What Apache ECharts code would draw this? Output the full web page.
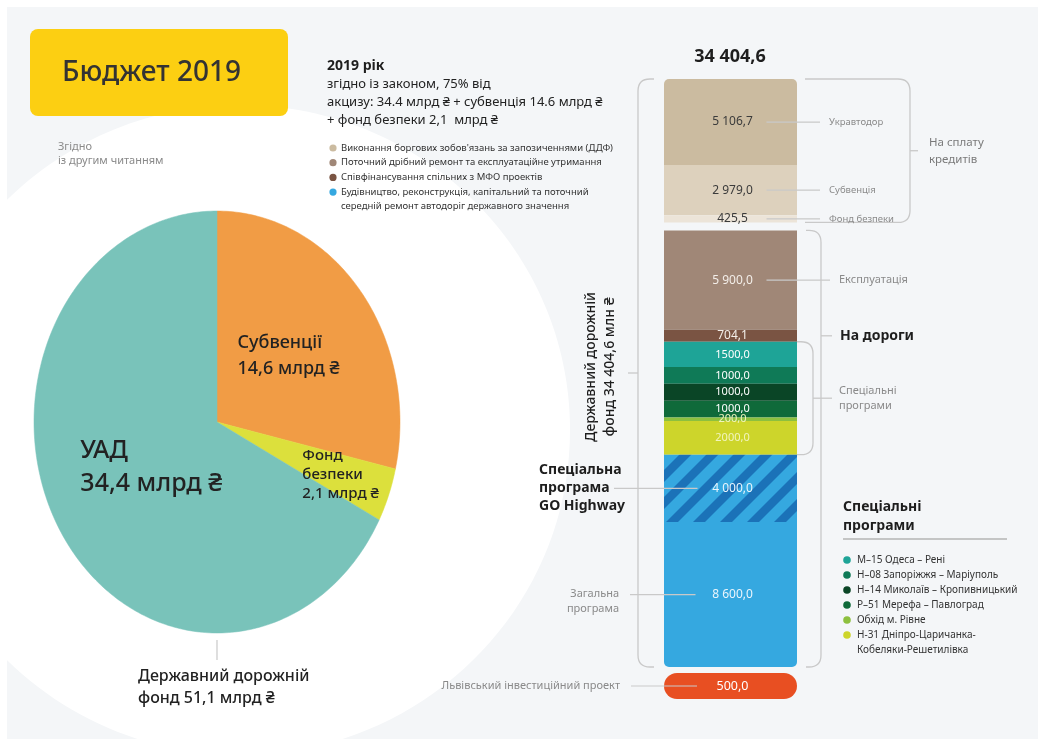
<!DOCTYPE html>
<html>
<head>
<meta charset="utf-8">
<script src="https://cdn.jsdelivr.net/npm/echarts@6/dist/echarts.min.js"></script>
<style>
  html, body { margin: 0; padding: 0; background: #ffffff; }
  #chart { width: 1044px; height: 739px; }
</style>
</head>
<body>
<div id="chart"></div>
<script>
// ---- Sources of the state road fund, bn UAH ----
const pieNames = ['Субвенції', 'Фонд\nбезпеки', 'УАД'];
const pieValues = [14.6, 2.1, 34.4];
const pieColors = ['#f19c45', '#dce03c', '#79c3ba'];

// ---- Allocation of the fund, mln UAH ----
const fundTotal = 34404.6;

const creditNames = ['Укравтодор', 'Субвенція', 'Фонд безпеки'];
const creditValues = [5106.7, 2979.0, 425.5];
const creditColors = ['#cbbba0', '#ddd1bd', '#ece4d8'];

const maintenanceNames = ['Експлуатація', ''];
const maintenanceValues = [5900.0, 704.1];
const maintenanceColors = ['#a08777', '#7a5443'];

const specialNames = ['М–15 Одеса – Рені', 'Н–08 Запоріжжя – Маріуполь', 'Н–14 Миколаїв – Кропивницький',
  'Р–51 Мерефа – Павлоград', 'Обхід м. Рівне', 'Н-31 Дніпро-Царичанка-\nКобеляки-Решетилівка'];
const specialValues = [1500.0, 1000.0, 1000.0, 1000.0, 200.0, 2000.0];
const specialColors = ['#1ea497', '#0f7a57', '#0a4526', '#0f6a3a', '#8dc03f', '#cdd52b'];

const constructionNames = ['Спеціальна\nпрограма\nGO Highway', 'Загальна\nпрограма'];
const constructionValues = [4000.0, 8600.0];

const lvivName = 'Львівський інвестиційний проект';
const lvivValue = 500.0;

const purposeNames = ["Виконання боргових зобов'язань за запозиченнями (ДДФ)",
  'Поточний дрібний ремонт та експлуатаційне утримання',
  'Співфінансування спільних з МФО проектів',
  'Будівництво, реконструкція, капітальний та поточний\nсередній ремонт автодоріг державного значення'];
const purposeColors = ['#cbbba0', '#a08777', '#7a5443', '#35a8e0'];

// ---- helpers ----
const FONT = '"Noto Sans", "DejaVu Sans", sans-serif';
const sum = a => a.reduce((s, v) => s + v, 0);
function fmt(v, grouped) {
  const parts = v.toFixed(1).split('.');
  const int = grouped ? parts[0].replace(/\B(?=(\d{3})+(?!\d))/g, ' ') : parts[0];
  return int + ',' + parts[1];
}
const measureCtx = document.createElement('canvas').getContext('2d');
function textWidth(str, font) {
  measureCtx.font = font;
  return Math.max(...str.split('\n').map(s => measureCtx.measureText(s).width));
}
function txt(x, y, text, font, fill, align, vAlign, lineHeight) {
  const style = { text, font, fill, align: align || 'left', textAlign: align || 'left',
    verticalAlign: vAlign || 'middle', textVerticalAlign: vAlign || 'middle' };
  if (lineHeight) style.lineHeight = lineHeight;
  return { type: 'text', x, y, z: 5, style };
}

// Diagonal stripe fill for the GO Highway block
function stripeCanvas() {
  const p = 27, c = document.createElement('canvas');
  c.width = p; c.height = p;
  const g = c.getContext('2d');
  g.fillStyle = '#35a8e0'; g.fillRect(0, 0, p, p);
  g.fillStyle = '#1b72b8';
  const w = 12;
  for (const k of [-p, 0, p]) {
    g.beginPath();
    g.moveTo(k, p); g.lineTo(k + w, p); g.lineTo(k + w + p, 0); g.lineTo(k + p, 0);
    g.closePath(); g.fill();
  }
  return c;
}
const stripes = { image: stripeCanvas(), repeat: 'repeat' };

// ---- column segments ----
const segments = [];
creditValues.forEach((v, i) => segments.push({ v, grp: 0, color: creditColors[i], grouped: true,
  textColor: '#3b3b3b', valueFont: '12px ' + FONT,
  name: creditNames[i], side: 'right', nameX: 829, nameFont: '9.5px ' + FONT }));
maintenanceValues.forEach((v, i) => segments.push({ v, grp: 1, color: maintenanceColors[i], grouped: true,
  textColor: '#f3eee9', valueFont: '12px ' + FONT,
  name: maintenanceNames[i], side: maintenanceNames[i] ? 'right' : null,
  nameX: 839, nameFont: '11px ' + FONT }));
specialValues.forEach((v, i) => segments.push({ v, grp: 1, color: specialColors[i], grouped: false,
  textColor: i >= 4 ? '#f1f4bd' : '#ffffff', valueFont: '11px ' + FONT, side: null }));
constructionValues.forEach((v, i) => segments.push({ v, grp: 1, color: i === 0 ? stripes : '#35a8e0',
  grouped: true, textColor: '#eaf5fc', valueFont: '12px ' + FONT,
  name: constructionNames[i], side: 'left', emphasisName: i === 0 }));
let acc = 0;
segments.forEach(s => { s.start = acc; acc += s.v; s.end = acc; });

const creditsTotal = sum(creditValues);
const columnTotal = acc;
const specStart = creditsTotal + sum(maintenanceValues);
const specEnd = specStart + sum(specialValues);
const mfoMid = creditsTotal + maintenanceValues[0] + maintenanceValues[1] / 2;
const GAP = 8;

const colData = segments.map((s, i) => [s.start, s.end, i]);

function renderColumn(params, api) {
  const idx = api.value(2);
  const s = segments[idx];
  const off = s.grp > 0 ? GAP : 0;
  const a = api.coord([0, api.value(0)]);
  const b = api.coord([1, api.value(1)]);
  const x0 = a[0], x1 = b[0], y0 = a[1] + off, y1 = b[1] + off;
  const cx = (x0 + x1) / 2, cy = (y0 + y1) / 2;
  let r = 0;
  if (idx === 0) r = [5, 5, 0, 0];
  if (idx === segments.length - 1) r = [0, 0, 5, 5];
  const children = [
    { type: 'rect', shape: { x: x0, y: y0, width: x1 - x0, height: y1 - y0, r }, style: { fill: s.color } },
    { type: 'text', z2: 10, x: cx + 2, y: cy, style: { text: fmt(s.v, s.grouped), font: s.valueFont,
      fill: s.textColor, align: 'center', verticalAlign: 'middle' } }
  ];
  const line = (xa, xb) => ({ type: 'line', z2: 9, shape: { x1: xa, y1: cy, x2: xb, y2: cy },
    style: { stroke: '#c9c9c9', lineWidth: 1.2 } });
  if (s.side === 'right') {
    children.push(line(cx + 36, s.nameX - 9));
    children.push({ type: 'text', x: s.nameX, y: cy, style: { text: s.name, font: s.nameFont,
      fill: '#8a8a8a', align: 'left', verticalAlign: 'middle' } });
  } else if (s.side === 'left') {
    if (s.emphasisName) {
      children.push(line(614, cx - 33));
      children.push({ type: 'text', x: 539, y: cy, style: { text: s.name, font: 'bold 14px ' + FONT,
        fill: '#1e1e1e', lineHeight: 18, align: 'left', verticalAlign: 'middle' } });
    } else {
      children.push(line(630, cx - 35));
      children.push({ type: 'text', x: 619, y: cy - 8, style: { text: s.name, font: '11px ' + FONT,
        fill: '#8a8a8a', lineHeight: 15, align: 'right', verticalAlign: 'top' } });
    }
  }
  return { type: 'group', children };
}

// ---- brackets around groups of the column ----
const brackets = [
  { from: 0, to: creditsTotal, offFrom: 0, offTo: 0, xIn: 805, xOut: 910, tickTo: 918,
    label: 'На сплату\nкредитів', labelX: 929, font: '11.5px ' + FONT, color: '#7a7a7a', lh: 17 },
  { from: creditsTotal, to: columnTotal, offFrom: GAP, offTo: GAP, xIn: 806, xOut: 821, tickTo: 832,
    tickAt: mfoMid, label: 'На дороги', labelX: 840, font: 'bold 14px ' + FONT, color: '#1e1e1e', lh: 18 },
  { from: specStart, to: specEnd, offFrom: GAP, offTo: GAP, xIn: 797, xOut: 813, tickTo: 832,
    label: 'Спеціальні\nпрограми', labelX: 839, font: '11px ' + FONT, color: '#8a8a8a', lh: 15 },
  { from: 0, to: columnTotal, offFrom: 0, offTo: GAP, xIn: 654, xOut: 638, tickTo: 628,
    label: 'Державний дорожній\nфонд ' + fmt(fundTotal, true) + ' млн ₴', rotated: true,
    font: '500 14px ' + FONT, color: '#1e1e1e', lh: 19 }
];

function renderBracket(params, api) {
  const bk = brackets[params.dataIndex];
  const yT = api.coord([0, bk.from])[1] + bk.offFrom;
  const yB = api.coord([0, bk.to])[1] + bk.offTo;
  const tickY = bk.tickAt != null ? api.coord([0, bk.tickAt])[1] + GAP : (yT + yB) / 2;
  const r = 12, s = bk.xIn < bk.xOut ? -1 : 1;
  const path = `M${bk.xIn},${yT} L${bk.xOut + s * r},${yT} Q${bk.xOut},${yT} ${bk.xOut},${yT + r} ` +
    `L${bk.xOut},${yB - r} Q${bk.xOut},${yB} ${bk.xOut + s * r},${yB} L${bk.xIn},${yB}`;
  const children = [
    { type: 'path', shape: { pathData: path }, style: { fill: 'none', stroke: '#c9c9c9', lineWidth: 1.3 } },
    { type: 'line', shape: { x1: bk.xOut, y1: tickY, x2: bk.tickTo, y2: tickY },
      style: { stroke: '#c9c9c9', lineWidth: 1.3 } }
  ];
  if (bk.rotated) {
    children.push({ type: 'text', x: 601, y: tickY - 6, rotation: Math.PI / 2,
      style: { text: bk.label, font: bk.font, fill: bk.color, lineHeight: bk.lh, align: 'center', verticalAlign: 'middle' } });
  } else {
    children.push({ type: 'text', x: bk.labelX, y: tickY,
      style: { text: bk.label, font: bk.font, fill: bk.color, lineHeight: bk.lh, align: 'left', verticalAlign: 'middle' } });
  }
  return { type: 'group', children };
}

// ---- Lviv project pill ----
function renderLviv(params, api) {
  const a = api.coord([0, 0]);
  const b = api.coord([api.value(0), 0]);
  const band = api.size([0, 1])[1];
  const cy = a[1], cx = (a[0] + b[0]) / 2;
  return { type: 'group', children: [
    { type: 'rect', shape: { x: a[0], y: cy - band / 2, width: b[0] - a[0], height: band, r: band / 2 },
      style: { fill: '#e84f22' } },
    { type: 'text', x: cx + 2, y: cy, style: { text: fmt(api.value(0), true), font: '12.5px ' + FONT,
      fill: '#ffffff', align: 'center', verticalAlign: 'middle' } },
    { type: 'line', shape: { x1: 631, y1: cy, x2: a[0] + 33, y2: cy }, style: { stroke: '#c9c9c9', lineWidth: 1.2 } },
    { type: 'text', x: 620, y: cy, style: { text: lvivName, font: '11px ' + FONT, fill: '#8a8a8a',
      align: 'right', verticalAlign: 'middle' } }
  ] };
}

// ---- elliptical pie ----
const PIE = { cx: 217, cy: 422, rx: 183, ry: 211 };
const pieTotal = sum(pieValues);
const pieStarts = []; { let a = 0; pieValues.forEach(v => { pieStarts.push(a); a += v; }); }
const pieLabelStyle = [
  { f: 0.5, font: '500 18px ' + FONT, lh: 26 },
  { f: 0.72, font: '500 15px ' + FONT, lh: 19 },
  { f: 0.42, font: '500 25px ' + FONT, lh: 33 }
];
function piePoint(ang, f) {
  return [PIE.cx + PIE.rx * f * Math.sin(ang), PIE.cy - PIE.ry * f * Math.cos(ang)];
}
function renderPie(params, api) {
  const i = params.dataIndex;
  const v = api.value(0);
  const a0 = pieStarts[i] / pieTotal * 2 * Math.PI;
  const a1 = (pieStarts[i] + v) / pieTotal * 2 * Math.PI;
  const n = Math.max(2, Math.ceil((a1 - a0) / (Math.PI / 180)));
  const pts = [[PIE.cx, PIE.cy]];
  for (let k = 0; k <= n; k++) pts.push(piePoint(a0 + (a1 - a0) * k / n, 1));
  const ls = pieLabelStyle[i];
  const label = pieNames[i] + '\n' + v.toFixed(1).replace('.', ',') + ' млрд ₴';
  const c = piePoint((a0 + a1) / 2, ls.f);
  const w = textWidth(label, ls.font);
  return { type: 'group', children: [
    { type: 'polygon', shape: { points: pts }, style: { fill: pieColors[i], stroke: pieColors[i], lineWidth: 0.5 } },
    { type: 'text', z2: 10, x: c[0] - w / 2, y: c[1], style: { text: label, font: ls.font, fill: '#222222',
      lineHeight: ls.lh, align: 'left', verticalAlign: 'middle' } }
  ] };
}

// ---- static layout: panel, title, notes, legends ----
const graphics = [
  { type: 'rect', z: 0, shape: { x: 7, y: 7, width: 1031, height: 732 }, style: { fill: '#f4f6f8' } },
  { type: 'ellipse', z: 0, shape: { cx: 240, cy: 430, rx: 330, ry: 325 }, style: { fill: '#ffffff' } },
  { type: 'rect', z: 1, shape: { x: 30, y: 29, width: 258, height: 87, r: 8 }, style: { fill: '#fccf12' } },
  txt(62, 73, 'Бюджет 2019', '500 28px ' + FONT, '#333333'),
  txt(58, 140, 'Згідно\nіз другим читанням', '11px ' + FONT, '#8a8a8a', 'left', 'top', 14),
  txt(327, 66, '2019 рік', 'bold 14px ' + FONT, '#1e1e1e'),
  txt(327, 75, 'згідно із законом, 75% від\nакцизу: 34.4 млрд ₴ + субвенція 14.6 млрд ₴\n+ фонд безпеки 2,1  млрд ₴',
    '13px ' + FONT, '#222222', 'left', 'top', 18),
  txt(730, 57, fmt(fundTotal, true), 'bold 18px ' + FONT, '#1e1e1e', 'center'),
  // pie total annotation
  { type: 'line', z: 5, shape: { x1: PIE.cx, y1: PIE.cy + PIE.ry + 7, x2: PIE.cx, y2: PIE.cy + PIE.ry + 27 },
    style: { stroke: '#c9c9c9', lineWidth: 1.2 } },
  txt(138, 665, 'Державний дорожній\nфонд ' + pieTotal.toFixed(1).replace('.', ',') + ' млрд ₴',
    '500 16px ' + FONT, '#222222', 'left', 'top', 22),
  // special programmes legend heading
  txt(843, 517, 'Спеціальні\nпрограми', 'bold 14px ' + FONT, '#1e1e1e', 'left', 'middle', 19),
  { type: 'line', z: 5, shape: { x1: 843, y1: 539, x2: 1007, y2: 539 }, style: { stroke: '#b5b5b5', lineWidth: 1.5 } }
];

// purposes legend (top)
{
  let y = 148;
  purposeNames.forEach((name, i) => {
    graphics.push({ type: 'circle', z: 5, shape: { cx: 333, cy: y, r: 3.6 }, style: { fill: purposeColors[i] } });
    graphics.push(txt(341, y - 7, name, '9.5px ' + FONT, '#333333', 'left', 'top', 14));
    y += 14.7;
  });
}
// special programmes legend (bottom right)
{
  let y = 560;
  specialNames.forEach((name, i) => {
    graphics.push({ type: 'circle', z: 5, shape: { cx: 847, cy: y, r: 3.8 }, style: { fill: specialColors[i] } });
    graphics.push(txt(857, y - 7.5, name, '10px ' + FONT, '#333333', 'left', 'top', 15));
    y += 15;
  });
}

const chart = echarts.init(document.getElementById('chart'), null, { renderer: 'canvas' });
chart.setOption({
  animation: false,
  backgroundColor: '#ffffff',
  graphic: { elements: graphics },
  grid: [
    { left: 664, top: 79, width: 133, height: 580 },
    { left: 664, top: 673, width: 133, height: 26 }
  ],
  xAxis: [
    { type: 'value', gridIndex: 0, min: 0, max: 1, show: false },
    { type: 'value', gridIndex: 1, min: 0, max: lvivValue, show: false }
  ],
  yAxis: [
    { type: 'value', gridIndex: 0, min: 0, max: columnTotal, inverse: true, show: false },
    { type: 'category', gridIndex: 1, data: [lvivName], show: false }
  ],
  series: [
    { type: 'custom', coordinateSystem: 'none', renderItem: renderPie, z: 3,
      data: pieValues.map((v, i) => [v, i]) },
    { type: 'custom', xAxisIndex: 0, yAxisIndex: 0, renderItem: renderColumn, z: 3,
      encode: { y: [0, 1] }, data: colData },
    { type: 'custom', xAxisIndex: 0, yAxisIndex: 0, renderItem: renderBracket, z: 2,
      encode: { y: [0, 1] }, data: brackets.map(b => [b.from, b.to]) },
    { type: 'custom', xAxisIndex: 1, yAxisIndex: 1, renderItem: renderLviv, z: 3,
      encode: { x: 0, y: 1 }, data: [[lvivValue, 0]] }
  ]
});
</script>
</body>
</html>
